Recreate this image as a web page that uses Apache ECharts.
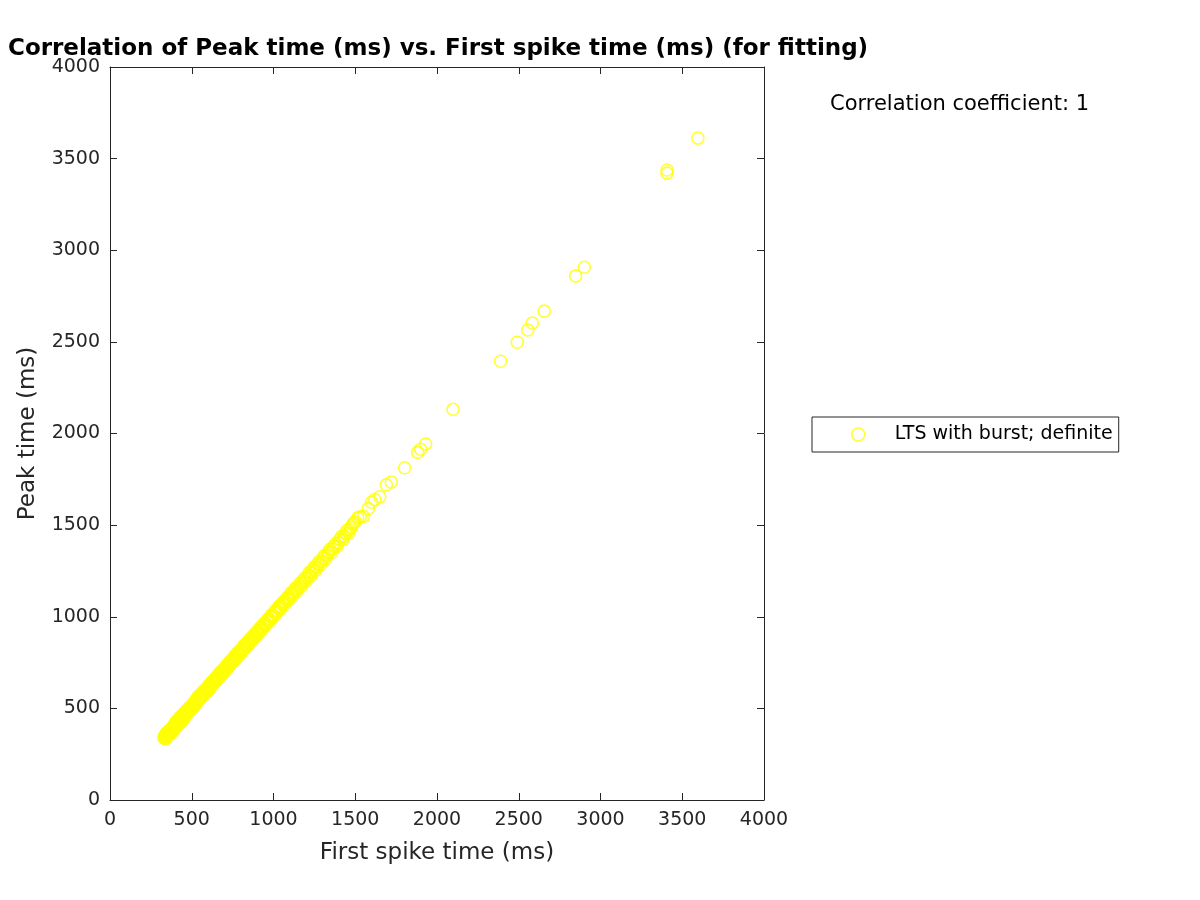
<!DOCTYPE html>
<html><head><meta charset="utf-8">
<script src="https://cdn.jsdelivr.net/npm/echarts@6/dist/echarts.min.js"></script>
<style>html,body{margin:0;padding:0;background:#fff}#c{width:1200px;height:900px}</style>
</head><body><div id="c"></div>
<script>
const titleText = 'Correlation of Peak time (ms) vs. First spike time (ms) (for fitting)';
const xLabel = 'First spike time (ms)';
const yLabel = 'Peak time (ms)';
const seriesName = 'LTS with burst; definite';
const corrText = 'Correlation coefficient: 1';
const xTicks = [0, 500, 1000, 1500, 2000, 2500, 3000, 3500, 4000];
const yTicks = [0, 500, 1000, 1500, 2000, 2500, 3000, 3500, 4000];

const firstSpike = [330,335,340,345,350,355,360,365,370,378,385,392,400,405,410,418,425,432,440,448,455,462,470,478,485,492,500,510,518,525,533,540,548,556,565,572,580,590,598,606,615,623,632,640,650,658,667,675,684,692,700,710,720,728,737,746,755,765,774,783,792,802,811,820,830,840,850,860,870,880,890,900,912,922,933,944,955,966,977,988,1000,1012,1023,1035,1047,1060,1072,1085,1098,1110,1123,1136,1150,1163,1177,1190,1205,1220,1235,1250,1265,1280,1296,1312,1328,1345,1362,1380,1398,1415,1432,1450,1468,1485,1500,1515,1530,1550,1580,1600,1620,1650,1690,1720,1802,1882,1900,1931,2098,2389,2491,2555,2583,2656,2848,2901,3407,3407,3596];
const peakTime = [338,350,333,362,345,372,358,380,366,392,378,410,398,430,412,425,448,436,462,452,470,482,476,498,490,510,505,528,520,545,540,566,555,578,572,595,584,610,603,628,620,645,640,662,655,680,675,698,690,712,708,732,726,750,744,768,762,788,780,806,800,822,818,844,838,862,856,882,878,902,897,922,918,944,940,966,962,988,984,1010,1006,1034,1030,1058,1054,1082,1080,1106,1104,1132,1130,1158,1156,1184,1184,1210,1212,1242,1240,1272,1270,1302,1302,1334,1336,1368,1370,1400,1404,1436,1440,1472,1478,1505,1520,1540,1545,1548,1590,1625,1640,1655,1720,1735,1813,1897,1914,1943,2132,2394,2498,2565,2603,2668,2860,2907,3421,3438,3612];

const firstSpikeB = [333,338,343,348,352,358,362,368,373,381,388,395,402,408,414,421,428,436,443,451,458,466,474,481,488,496,504,513,521,529,537,544,552,560,568,576,585,594,602,611,619,627,636,645,654,662,671,680,688,696,705,715,724,733,742,751,760,770,779,788,797,806,816,825,835,845,855,865,875,885,895,906,917,928,938,950,961,972,983,994,1006,1018,1029,1041,1053,1066,1079,1092,1104,1117,1130,1143,1157,1170,1184,1198,1212,1228,1242,1258,1272,1288,1304,1320,1337,1354,1371,1389,1406,1424,1441,1459,1476,1492];
const peakTimeB = [345,355,340,368,352,365,376,360,385,372,398,388,418,402,432,415,438,425,455,442,478,462,488,478,505,492,520,508,538,528,555,545,570,560,588,575,602,590,618,608,638,628,655,645,670,662,690,680,705,698,722,715,742,735,760,752,778,770,798,790,815,806,835,826,852,845,872,866,892,886,912,906,935,928,955,950,978,972,1000,994,1024,1018,1048,1040,1072,1066,1096,1090,1122,1116,1146,1140,1172,1166,1198,1192,1228,1222,1258,1254,1288,1284,1320,1316,1352,1350,1386,1384,1422,1420,1456,1455,1490,1512];

const points = firstSpike.map((x, i) => [x, peakTime[i]])
  .concat(firstSpikeB.map((x, i) => [x, peakTimeB[i]]));
const font = 'DejaVu Sans';
const txt = '#262626';

const chart = echarts.init(document.getElementById('c'), null, {renderer: 'canvas'});
const axisCommon = {
  min: 0, max: 4000, interval: 500,
  axisLine: {show: true, onZero: false, lineStyle: {color: txt, width: 1}},
  axisTick: {show: true, inside: true, length: 7, lineStyle: {color: txt}},
  splitLine: {show: false},
  nameTextStyle: {fontFamily: font, fontSize: 23, color: txt},
  axisLabel: {fontFamily: font, fontSize: 19, color: txt}
};
chart.setOption({
  animation: false,
  backgroundColor: '#fff',
  title: {text: titleText, left: 8, top: 38, padding: 0, textStyle: {fontFamily: font, fontSize: 23, fontWeight: 'bold', color: '#000'}},
  grid: {left: 110, right: 436, top: 67, bottom: 100, containLabel: false},
  legend: {
    data: [seriesName], left: 812, top: 417, orient: 'vertical',
    borderColor: txt, borderWidth: 1, padding: [8, 6, 8, 39],
    itemWidth: 13, itemHeight: 13, icon: 'circle',
    itemStyle: {color: 'rgba(0,0,0,0)', borderColor: '#ffff00', borderWidth: 1.6},
    textStyle: {fontFamily: font, fontSize: 19, color: '#000', padding: [0, 0, 0, 25]}
  },
  graphic: [{type: 'text', left: 830, top: 94, style: {text: corrText, font: '21px "DejaVu Sans"', fill: '#000'}}],
  xAxis: [
    Object.assign({}, axisCommon, {type: 'value', position: 'bottom', name: xLabel, nameLocation: 'middle', nameGap: 42,
      axisLabel: Object.assign({}, axisCommon.axisLabel, {margin: 11, formatter: v => xTicks.includes(v) ? String(v) : ''})}),
    Object.assign({}, axisCommon, {type: 'value', position: 'top', axisLabel: {show: false}})
  ],
  yAxis: [
    Object.assign({}, axisCommon, {type: 'value', position: 'left', name: yLabel, nameLocation: 'middle', nameGap: 70,
      axisLabel: Object.assign({}, axisCommon.axisLabel, {margin: 10, formatter: v => yTicks.includes(v) ? String(v) : ''})}),
    Object.assign({}, axisCommon, {type: 'value', position: 'right', axisLabel: {show: false}})
  ],
  series: [{
    name: seriesName, type: 'scatter', data: points, symbol: 'circle', symbolSize: 12,
    itemStyle: {color: 'rgba(0,0,0,0)', borderColor: '#ffff00', borderWidth: 1.6}
  }]
});
</script></body></html>
